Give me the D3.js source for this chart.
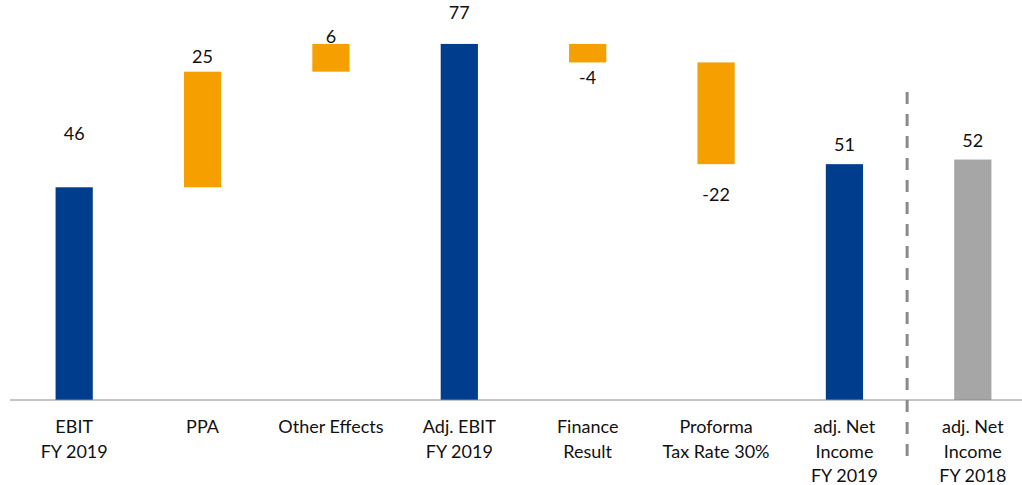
<html>
<head>
<meta charset="utf-8">
<script src="https://cdn.jsdelivr.net/npm/d3@7"></script>
<style>
    body { margin: 0; background: #fff; }
    text { font-family: Lato, "Open Sans", sans-serif; fill: #111; }
</style>
</head>
<body>
<svg width="1022" height="485"></svg>
<script>
// categories (line breaks as in the original axis)
var categories = [
    ["EBIT", "FY 2019"],
    ["PPA"],
    ["Other Effects"],
    ["Adj. EBIT", "FY 2019"],
    ["Finance", "Result"],
    ["Proforma", "Tax Rate 30%"],
    ["adj. Net", "Income", "FY 2019"],
    ["adj. Net", "Income", "FY 2018"]
];
// step values; "total" bars start at zero, "delta" bars float
var values = [46, 25, 6, 77, -4, -22, 51, 52];
var kinds = ["total", "delta", "delta", "total", "delta", "delta", "total", "prior"];

// label nudges in px from the bar end (as placed in the original)
var labelShift = [-54, -15, -7, -31, 15, 31, -19, -19];

var colors = { total: "#003d8c", delta: "#f5a000", prior: "#a6a6a6" };

var svg = d3.select("svg");

var x = d3.scaleBand()
    .domain(d3.range(categories.length))
    .range([10, 1037])
    .padding(0);

var y = d3.scaleLinear()
    .domain([0, 86.5])
    .range([400, 0]);

// waterfall spans
var running = 0;
var spans = values.map(function(v, i) {
    var s;
    if (kinds[i] === "delta") {
        s = { lo: Math.min(running, running + v), hi: Math.max(running, running + v), v: v };
        running += v;
    } else {
        s = { lo: 0, hi: v, v: v };
        if (kinds[i] === "total") running = v;
    }
    s.kind = kinds[i];
    s.i = i;
    return s;
});

var barW = x.bandwidth() * 0.29;
var cx = function(i) { return x(i) + x.bandwidth() / 2; };

svg.append("g").selectAll("rect")
    .data(spans)
    .enter().append("rect")
    .attr("x", function(d) { return cx(d.i) - barW / 2; })
    .attr("y", function(d) { return y(d.hi); })
    .attr("width", barW)
    .attr("height", function(d) { return y(d.lo) - y(d.hi); })
    .attr("fill", function(d) { return colors[d.kind]; });

// baseline
svg.append("line")
    .attr("x1", 10).attr("x2", 1022)
    .attr("y1", y(0)).attr("y2", y(0))
    .attr("stroke", "#8a8a8a")
    .attr("stroke-width", 1);

// separator before prior year
var sepX = (cx(6) + cx(7)) / 2 - 1.5;
svg.append("line")
    .attr("x1", sepX).attr("x2", sepX)
    .attr("y1", 92).attr("y2", 466)
    .attr("stroke", "#8a8a8a")
    .attr("stroke-width", 3)
    .attr("stroke-dasharray", "12,10");

// value labels
svg.append("g").selectAll("text")
    .data(spans)
    .enter().append("text")
    .attr("x", function(d) { return cx(d.i); })
    .attr("y", function(d) {
        var end = d.v < 0 ? y(d.lo) : y(d.hi);
        return end + labelShift[d.i];
    })
    .attr("dy", "0.35em")
    .attr("text-anchor", "middle")
    .style("font-size", "18px")
    .text(function(d) { return d.v; });

// category labels
var cat = svg.append("g").selectAll("text")
    .data(categories)
    .enter().append("text")
    .attr("text-anchor", "middle")
    .style("font-size", "18px")
    .attr("transform", function(d, i) { return "translate(" + cx(i) + "," + 433 + ")"; });

cat.selectAll("tspan")
    .data(function(d) { return d; })
    .enter().append("tspan")
    .attr("x", 0)
    .attr("y", function(d, j) { return j * 24.5; })
    .text(function(d) { return d; });
</script>
</body>
</html>
